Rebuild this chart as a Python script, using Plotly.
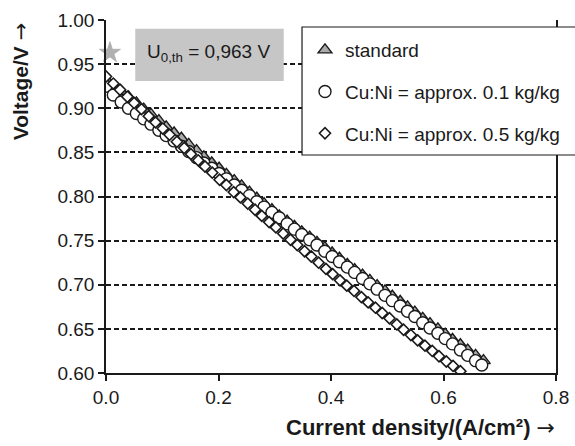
import plotly.graph_objects as go

# ---- data ----
x_standard = [0.000, 0.013, 0.027, 0.040, 0.054, 0.067, 0.080, 0.094, 0.107, 0.121,
              0.134, 0.147, 0.161, 0.174, 0.188, 0.201, 0.214, 0.228, 0.241, 0.255,
              0.268, 0.281, 0.295, 0.308, 0.322, 0.335, 0.348, 0.362, 0.375, 0.389,
              0.402, 0.415, 0.429, 0.442, 0.456, 0.469, 0.482, 0.496, 0.509, 0.523,
              0.536, 0.549, 0.563, 0.576, 0.590, 0.603, 0.616, 0.630, 0.643, 0.657, 0.671]
v_standard = [0.933, 0.926, 0.919, 0.913, 0.906, 0.899, 0.893, 0.886, 0.879, 0.872,
              0.866, 0.859, 0.852, 0.845, 0.838, 0.832, 0.825, 0.818, 0.812, 0.805,
              0.798, 0.792, 0.785, 0.778, 0.772, 0.766, 0.760, 0.754, 0.748, 0.742,
              0.736, 0.730, 0.723, 0.717, 0.711, 0.705, 0.699, 0.693, 0.687, 0.681,
              0.675, 0.669, 0.662, 0.656, 0.650, 0.644, 0.638, 0.632, 0.626, 0.620, 0.614]

x_cuni01 = [0.000, 0.013, 0.027, 0.040, 0.054, 0.067, 0.080, 0.094, 0.107, 0.121,
            0.134, 0.147, 0.161, 0.174, 0.188, 0.201, 0.214, 0.228, 0.241, 0.255,
            0.268, 0.281, 0.295, 0.308, 0.322, 0.335, 0.348, 0.362, 0.375, 0.389,
            0.402, 0.415, 0.429, 0.442, 0.456, 0.469, 0.482, 0.496, 0.509, 0.523,
            0.536, 0.549, 0.563, 0.576, 0.590, 0.603, 0.616, 0.630, 0.643, 0.657, 0.668]
v_cuni01 = [0.925, 0.915, 0.907, 0.900, 0.894, 0.888, 0.882, 0.875, 0.869, 0.863,
            0.857, 0.851, 0.844, 0.838, 0.832, 0.826, 0.820, 0.813, 0.807, 0.801,
            0.794, 0.788, 0.782, 0.776, 0.769, 0.763, 0.757, 0.751, 0.745, 0.738,
            0.732, 0.726, 0.720, 0.714, 0.707, 0.701, 0.695, 0.688, 0.682, 0.676,
            0.670, 0.664, 0.657, 0.651, 0.645, 0.639, 0.633, 0.626, 0.620, 0.614, 0.609]

x_cuni05 = [0.000, 0.013, 0.025, 0.038, 0.050, 0.063, 0.076, 0.088, 0.101, 0.113,
            0.126, 0.139, 0.151, 0.164, 0.176, 0.189, 0.202, 0.214, 0.227, 0.239,
            0.252, 0.265, 0.277, 0.290, 0.302, 0.315, 0.328, 0.340, 0.353, 0.365,
            0.378, 0.391, 0.403, 0.416, 0.428, 0.441, 0.454, 0.466, 0.479, 0.491,
            0.504, 0.517, 0.529, 0.542, 0.554, 0.567, 0.580, 0.592, 0.605, 0.617, 0.630]
v_cuni05 = [0.936, 0.928, 0.921, 0.913, 0.906, 0.899, 0.891, 0.884, 0.877, 0.870,
            0.862, 0.855, 0.848, 0.841, 0.834, 0.827, 0.819, 0.813, 0.805, 0.799,
            0.792, 0.785, 0.778, 0.771, 0.765, 0.758, 0.751, 0.745, 0.738, 0.732,
            0.725, 0.718, 0.712, 0.705, 0.699, 0.693, 0.686, 0.680, 0.674, 0.668,
            0.662, 0.655, 0.649, 0.643, 0.637, 0.631, 0.625, 0.619, 0.613, 0.608, 0.602]

u0_x = [0.007]
u0_v = [0.963]

series_names = ["standard", "Cu:Ni = approx. 0.1 kg/kg", "Cu:Ni = approx. 0.5 kg/kg"]
y_ticks = [0.60, 0.65, 0.70, 0.75, 0.80, 0.85, 0.90, 0.95, 1.00]
x_ticks = [0.0, 0.2, 0.4, 0.6, 0.8]

FONT = "Liberation Sans, Arial, Helvetica, sans-serif"
INK = "#1a1a1a"
ARROW = '<span style="font-family:DejaVu Sans;font-weight:normal">→</span>'

fig = go.Figure()

fig.add_trace(go.Scatter(
    x=x_standard, y=v_standard, mode="markers", name=series_names[0],
    legendgroup="a",
    marker=dict(symbol="triangle-up", size=12, color="#aaaaaa",
                line=dict(color=INK, width=1.4))))
fig.add_trace(go.Scatter(
    x=x_cuni01, y=v_cuni01, mode="markers", name=series_names[1],
    legendgroup="b",
    marker=dict(symbol="circle", size=12, color="white",
                line=dict(color=INK, width=1.4))))
fig.add_trace(go.Scatter(
    x=x_cuni05, y=v_cuni05, mode="markers", name=series_names[2],
    legendgroup="c",
    marker=dict(symbol="diamond", size=8.5, color="white",
                line=dict(color=INK, width=1.6))))
fig.add_trace(go.Scatter(
    x=u0_x, y=u0_v, mode="markers", showlegend=False, cliponaxis=False,
    marker=dict(symbol="star", size=16, color="#b0b0b0",
                line=dict(color="#9a9a9a", width=0.5))))

# legend frame and value box
fig.add_shape(type="rect", xref="paper", yref="paper",
              x0=0.4356, x1=1.2, y0=0.6176, y1=0.9802,
              line=dict(color=INK, width=1.2), fillcolor="white", layer="above")
fig.add_shape(type="rect", xref="x", yref="y",
              x0=0.052, x1=0.316, y0=0.931, y1=0.990,
              line=dict(width=0), fillcolor="#c6c6c6", layer="above")
fig.add_annotation(x=0.183, y=0.9625, xref="x", yref="y",
                   text="U<sub>0,th</sub> = 0,963 V", showarrow=False,
                   font=dict(family=FONT, size=19, color=INK))

# axis titles
fig.add_annotation(x=1.003, y=-0.153, xref="paper", yref="paper",
                   xanchor="right", yanchor="middle",
                   text="<b>Current density/(A/cm²) </b>" + ARROW, showarrow=False,
                   font=dict(family=FONT, size=22, color=INK))
fig.add_annotation(x=-0.187, y=0.826, xref="paper", yref="paper",
                   xanchor="center", yanchor="middle", textangle=-90,
                   text="<b>Voltage/V </b>" + ARROW, showarrow=False,
                   font=dict(family=FONT, size=21, color=INK))

fig.update_layout(
    width=575, height=446,
    margin=dict(l=106, r=19, t=20, b=73, autoexpand=False),
    paper_bgcolor="white", plot_bgcolor="white",
    font=dict(family=FONT, size=19, color=INK),
    legend=dict(x=0.4422, y=0.9688, xanchor="left", yanchor="top",
                bgcolor="rgba(0,0,0,0)", borderwidth=0,
                traceorder="grouped", tracegroupgap=14,
                font=dict(family=FONT, size=19, color=INK)),
    showlegend=True,
)
fig.update_xaxes(range=[0, 0.8], tickvals=x_ticks, tickformat=".1f",
                 showgrid=False, zeroline=False, showline=True,
                 linecolor=INK, linewidth=1.5, ticks="outside", ticklen=6,
                 tickcolor=INK, tickwidth=1.5,
                 tickfont=dict(family=FONT, size=19, color=INK))
fig.update_yaxes(range=[0.6, 1.0], tickvals=y_ticks, tickformat=".2f",
                 showgrid=True, gridcolor=INK, gridwidth=2, griddash="5px,3px",
                 zeroline=False, showline=True, mirror=True,
                 linecolor=INK, linewidth=1.5, ticks="outside", ticklen=6,
                 tickcolor=INK, tickwidth=1.5,
                 tickfont=dict(family=FONT, size=19, color=INK))

fig.write_html("out.html")
